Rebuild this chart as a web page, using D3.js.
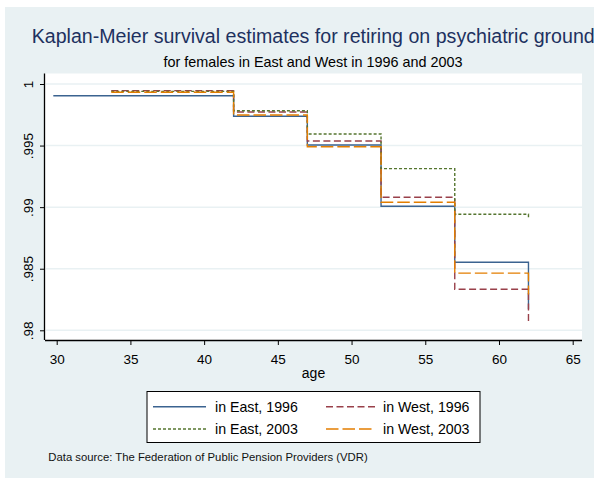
<!DOCTYPE html>
<html>
<head>
<meta charset="utf-8">
<script src="https://cdn.jsdelivr.net/npm/d3@7"></script>
<style>
  html, body { margin: 0; padding: 0; background: #ffffff; }
  svg { display: block; font-family: "Liberation Sans", Arial, sans-serif; }
</style>
</head>
<body>
<svg id="chart" width="594" height="478"></svg>
<script>
// ---- data ----
const stepAges = [42, 47, 52, 57, 62];
const seriesNames = ["in East, 1996", "in West, 1996", "in East, 2003", "in West, 2003"];
const startAges = [29.77, 33.7, 33.7, 33.7];
const eastSurv1996 = [0.99905, 0.99738, 0.99505, 0.99007, 0.98553, 0.98170];
const westSurv1996 = [0.99946, 0.99773, 0.99537, 0.99080, 0.98333, 0.98058];
const eastSurv2003 = [0.99940, 0.99783, 0.99594, 0.99313, 0.98942, 0.98902];
const westSurv2003 = [0.99933, 0.99748, 0.99491, 0.99040, 0.98464, 0.98290];
const xTicks = [30, 35, 40, 45, 50, 55, 60, 65];
const yTicks = [0.98, 0.985, 0.99, 0.995, 1];
const yTickLabels = [".98", ".985", ".99", ".995", "1"];

const seriesValues = [eastSurv1996, westSurv1996, eastSurv2003, westSurv2003];
const colors = ["#3b6390", "#99404a", "#55752f", "#e37e00"];
const dashes = [null, "7,3.5", "3,2", "12.5,4"];

const svg = d3.select("#chart");

// outer background
svg.append("rect").attr("x", 5).attr("y", 7).attr("width", 589).attr("height", 471)
  .attr("fill", "#e9f1f3");

// plot region
const plotL = 45, plotR = 582, plotT = 73.5, plotB = 340;
svg.append("rect").attr("x", plotL).attr("y", plotT)
  .attr("width", plotR - plotL).attr("height", plotB - plotT).attr("fill", "#ffffff");

const x = d3.scaleLinear().domain([30, 65]).range([56.7, 572.7]);
const y = d3.scaleLinear().domain([0.98, 1]).range([330.3, 84]);

// grid
svg.append("g").selectAll("line").data(yTicks).join("line")
  .attr("x1", plotL + 1).attr("x2", plotR)
  .attr("y1", d => y(d)).attr("y2", d => y(d))
  .attr("stroke", "#e9f1f3").attr("stroke-width", 1.5);

// series
const line = d3.line().x(d => x(d[0])).y(d => y(d[1])).curve(d3.curveStepAfter);
const seriesG = svg.append("g");
seriesValues.forEach((vals, i) => {
  const pts = [[startAges[i], vals[0]]].concat(stepAges.map((a, j) => [a, vals[j + 1]]));
  seriesG.append("path").datum(pts)
    .attr("d", line).attr("fill", "none")
    .attr("stroke", colors[i]).attr("stroke-width", 1.4)
    .attr("stroke-dasharray", dashes[i]);
});

// x axis
const xAxis = svg.append("g").attr("transform", `translate(0,${plotB})`)
  .call(d3.axisBottom(x).tickValues(xTicks).tickSize(5).tickPadding(9).tickFormat(d3.format("d")));
xAxis.select(".domain").attr("d", `M${plotL},0.5H${plotR}`).attr("stroke", "#000").attr("stroke-width", 1.3);
xAxis.selectAll(".tick line").attr("stroke", "#000");
xAxis.selectAll(".tick text").attr("font-size", 13.5).attr("fill", "#000")
  .attr("font-family", "Liberation Sans, Arial, sans-serif");

// y axis
const yAxis = svg.append("g").attr("transform", `translate(${plotL},0)`)
  .call(d3.axisLeft(y).tickValues(yTicks).tickSize(5).tickFormat((d, i) => yTickLabels[i]));
yAxis.select(".domain").attr("d", `M-0.5,${plotT}V${plotB}`).attr("stroke", "#000").attr("stroke-width", 1.3);
yAxis.selectAll(".tick line").attr("stroke", "#000");
yAxis.selectAll(".tick text")
  .attr("x", null).attr("dy", null)
  .attr("transform", "translate(-12,0) rotate(-90)")
  .attr("text-anchor", "middle")
  .attr("font-size", 13.5).attr("fill", "#000")
  .attr("font-family", "Liberation Sans, Arial, sans-serif");

// axis title
svg.append("text").attr("x", (plotL + plotR) / 2).attr("y", 377.5)
  .attr("text-anchor", "middle").attr("font-size", 14).attr("fill", "#000").text("age");

// titles
svg.append("text").attr("x", 31.7).attr("y", 43.3)
  .attr("font-size", 19.6).attr("fill", "#1e3160")
  .text("Kaplan-Meier survival estimates for retiring on psychiatric ground");
svg.append("text").attr("x", 313).attr("y", 66.5).attr("text-anchor", "middle")
  .attr("font-size", 14.4).attr("fill", "#000")
  .text("for females in East and West in 1996 and 2003");

// legend
const leg = svg.append("g");
leg.append("rect").attr("x", 147).attr("y", 391.5).attr("width", 333).attr("height", 51)
  .attr("fill", "#fff").attr("stroke", "#000").attr("stroke-width", 1);
const legPos = [
  {kx1: 153, kx2: 206, tx: 215, ty: 406.7},
  {kx1: 326, kx2: 375, tx: 383, ty: 406.7},
  {kx1: 153, kx2: 206, tx: 215, ty: 429},
  {kx1: 326, kx2: 375, tx: 383, ty: 429}
];
seriesNames.forEach((name, i) => {
  const p = legPos[i];
  leg.append("line").attr("x1", p.kx1).attr("x2", p.kx2).attr("y1", p.ty).attr("y2", p.ty)
    .attr("stroke", colors[i]).attr("stroke-width", 1.5).attr("stroke-dasharray", dashes[i]);
  leg.append("text").attr("x", p.tx).attr("y", p.ty + 5).attr("font-size", 14.2)
    .attr("fill", "#000").text(name);
});

// note
svg.append("text").attr("x", 48.3).attr("y", 461).attr("font-size", 11.3).attr("fill", "#111")
  .text("Data source: The Federation of Public Pension Providers (VDR)");
</script>
</body>
</html>
